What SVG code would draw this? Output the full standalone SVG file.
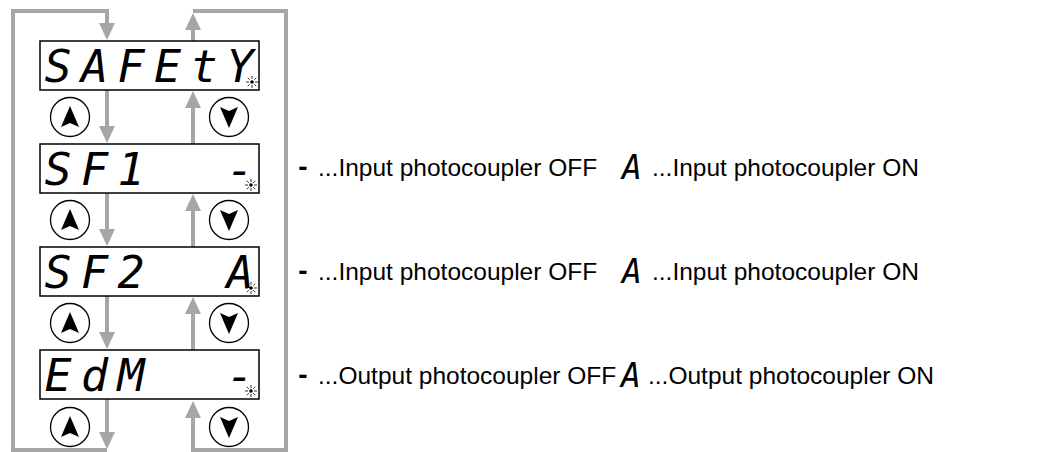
<svg xmlns="http://www.w3.org/2000/svg" width="1037" height="452" viewBox="0 0 1037 452">
<style>
.conn{stroke:#a6a6a6;stroke-width:4;fill:none}
.box{fill:#fff;stroke:#000;stroke-width:1.5}
.btn{fill:#fff;stroke:#000;stroke-width:1.3}
.tri{fill:#000}
.seg{font-family:"DejaVu Sans Mono",monospace;font-style:oblique;font-size:45px;fill:#000;text-anchor:middle}
.lbl{font-family:"Liberation Sans",Arial,sans-serif;font-size:24.5px;fill:#000}
.sym{font-family:"DejaVu Sans Mono",monospace;font-style:oblique;font-size:33px;fill:#000;text-anchor:middle}
.dash{font-family:"Liberation Sans",Arial,sans-serif;font-weight:bold;font-size:28px;fill:#000;text-anchor:middle}
.blink line{stroke:#000;stroke-width:0.8}
</style>
<defs>
<marker id="ah" markerUnits="userSpaceOnUse" viewBox="0 0 17 16" refX="9" refY="8" markerWidth="17" markerHeight="16" orient="auto">
<path d="M0,0 L17,8 L0,16 Z" fill="#a6a6a6"/>
</marker>
<g id="blink" class="blink">
<circle r="1.8" fill="#000"/>
<line x1="0" y1="-3" x2="0" y2="-6"/><line x1="0" y1="3" x2="0" y2="6"/>
<line x1="-3" y1="0" x2="-6" y2="0"/><line x1="3" y1="0" x2="6" y2="0"/>
<line x1="-2.2" y1="-2.2" x2="-4.3" y2="-4.3"/><line x1="2.2" y1="-2.2" x2="4.3" y2="-4.3"/>
<line x1="-2.2" y1="2.2" x2="-4.3" y2="4.3"/><line x1="2.2" y1="2.2" x2="4.3" y2="4.3"/>
</g>
<path id="up" class="tri" d="M0,-11 L9,10 L0,6 L-9,10 Z"/>
<path id="down" class="tri" d="M0,11 L9,-10 L0,-6 L-9,-10 Z"/>
</defs>
<rect width="1037" height="452" fill="#fff"/>
<g id="connectors">
<polyline class="conn" points="107,450 13,450 13,11 107,11 107,32" marker-end="url(#ah)"/>
<line class="conn" x1="107" y1="399" x2="107" y2="441" marker-end="url(#ah)"/>
<line class="conn" x1="193" y1="41" x2="193" y2="21" marker-end="url(#ah)"/>
<polyline class="conn" points="193,11 286,11 286,450 193,450 193,409" marker-end="url(#ah)"/>
<line class="conn" x1="107" y1="90" x2="107" y2="135" marker-end="url(#ah)"/>
<line class="conn" x1="107" y1="193" x2="107" y2="238" marker-end="url(#ah)"/>
<line class="conn" x1="107" y1="296" x2="107" y2="341" marker-end="url(#ah)"/>
<line class="conn" x1="193" y1="144" x2="193" y2="99" marker-end="url(#ah)"/>
<line class="conn" x1="193" y1="247" x2="193" y2="202" marker-end="url(#ah)"/>
<line class="conn" x1="193" y1="350" x2="193" y2="305" marker-end="url(#ah)"/>
</g>
<g id="display-safety">
<rect class="box" x="40" y="41" width="219" height="49"/>
<text class="seg" y="82"><tspan x="58">S</tspan><tspan x="94.5">A</tspan><tspan x="131">F</tspan><tspan x="167.5">E</tspan><tspan x="204">t</tspan><tspan x="240">Y</tspan></text>
<use href="#blink" x="252" y="82"/>
</g>
<g id="display-sf1">
<rect class="box" x="40" y="144" width="219" height="49"/>
<text class="seg" y="185"><tspan x="58">S</tspan><tspan x="94.5">F</tspan><tspan x="131">1</tspan><tspan x="240">-</tspan></text>
<use href="#blink" x="251" y="185"/>
</g>
<g id="display-sf2">
<rect class="box" x="40" y="247" width="219" height="49"/>
<text class="seg" y="288"><tspan x="58">S</tspan><tspan x="94.5">F</tspan><tspan x="131">2</tspan><tspan x="240">A</tspan></text>
<use href="#blink" x="251" y="288"/>
</g>
<g id="display-edm">
<rect class="box" x="40" y="350" width="219" height="49"/>
<text class="seg" y="391"><tspan x="58">E</tspan><tspan x="94.5">d</tspan><tspan x="131">M</tspan><tspan x="240">-</tspan></text>
<use href="#blink" x="251" y="391"/>
</g>
<g id="buttons">
<circle class="btn" cx="70" cy="117" r="19.5"/><use href="#up" x="70" y="117"/>
<circle class="btn" cx="229" cy="117" r="19.5"/><use href="#down" x="229" y="117"/>
<circle class="btn" cx="70" cy="220" r="19.5"/><use href="#up" x="70" y="220"/>
<circle class="btn" cx="229" cy="220" r="19.5"/><use href="#down" x="229" y="220"/>
<circle class="btn" cx="70" cy="323" r="19.5"/><use href="#up" x="70" y="323"/>
<circle class="btn" cx="229" cy="323" r="19.5"/><use href="#down" x="229" y="323"/>
<circle class="btn" cx="70" cy="427" r="19.5"/><use href="#up" x="70" y="427"/>
<circle class="btn" cx="229" cy="427" r="19.5"/><use href="#down" x="229" y="427"/>
</g>
<g id="legend-sf1">
<text class="dash" x="303" y="176">-</text>
<text class="lbl" x="318" y="176">...Input photocoupler OFF</text>
<text class="sym" x="632" y="179">A</text>
<text class="lbl" x="652" y="176">...Input photocoupler ON</text>
</g>
<g id="legend-sf2">
<text class="dash" x="303" y="280">-</text>
<text class="lbl" x="318" y="280">...Input photocoupler OFF</text>
<text class="sym" x="632" y="283">A</text>
<text class="lbl" x="652" y="280">...Input photocoupler ON</text>
</g>
<g id="legend-edm">
<text class="dash" x="303" y="384">-</text>
<text class="lbl" x="318" y="384">...Output photocoupler OFF</text>
<text class="sym" x="631" y="387">A</text>
<text class="lbl" x="648" y="384">...Output photocoupler ON</text>
</g>
</svg>
